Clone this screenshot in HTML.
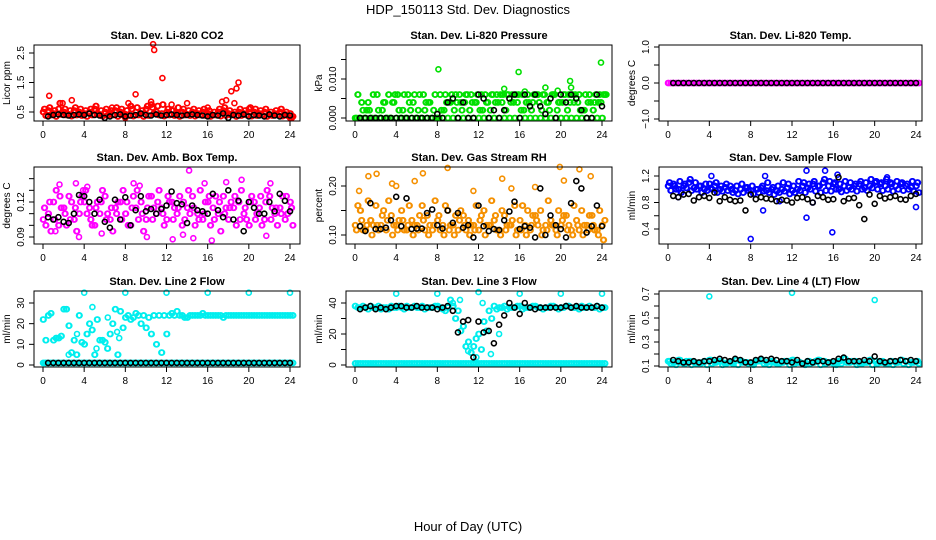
<!DOCTYPE html>
<html><head><meta charset="utf-8">
<style>
html,body{margin:0;padding:0;background:#fff;}
svg{display:block;font-family:"Liberation Sans",Arial,sans-serif;}
</style></head>
<body>
<svg id="chart" width="936" height="540" viewBox="0 0 936 540">
<text x="468" y="14" text-anchor="middle" font-size="13">HDP_150113  Std. Dev. Diagnostics</text>
<text x="468" y="531" text-anchor="middle" font-size="13">Hour of Day (UTC)</text>
</svg>
<script>
// ---------- data ----------
const xTicks = [0,4,8,12,16,20,24];

const co2A = [0.5,0.55,0.45,0.6,0.5,0.42,0.55,0.5,0.45,0.5,0.6,0.42,0.5,0.45,0.55,0.5,0.42,0.7,0.5,0.45,0.6,0.75,0.5,0.45,0.5,0.55,0.45,0.5,0.42,0.5,0.45,0.5,0.45,0.4,0.5,0.55,0.45,0.42,0.5,0.45,0.6,0.5,0.45,0.5,0.42,0.45,0.5,0.42,0.45];
const co2B = [0.38,0.4,0.35,0.42,0.4,0.36,0.4,0.38,0.35,0.4,0.42,0.36,0.38,0.4,0.35,0.4,0.38,0.36,0.4,0.35,0.38,0.45,0.4,0.36,0.4,0.38,0.35,0.4,0.38,0.36,0.4,0.38,0.35,0.4,0.36,0.38,0.4,0.35,0.38,0.4,0.36,0.38,0.4,0.35,0.38,0.4,0.36,0.38,0.35];
const co2C = [0.6,0.65,0.55,0.8,0.6,0.55,0.65,0.6,0.55,0.6,0.7,0.55,0.6,0.55,0.65,0.6,0.55,0.6,0.65,0.55,0.7,0.65,0.7,0.75,0.6,0.55,0.65,0.6,0.55,0.6,0.55,0.6,0.55,0.5,0.6,0.65,0.55,0.5,0.6,0.55,0.65,0.6,0.55,0.6,0.5,0.55,0.6,0.5,0.3];
const co2Out = [[0.6,1.05],[8.3,0.8],[9,1.1],[10.7,2.8],[10.8,2.6],[11.6,1.65],[12.5,0.75],[14,0.8],[17.4,0.85],[17.8,0.9],[18.3,1.2],[18.6,0.8],[18.8,1.3],[19,1.5],[2.8,0.9],[1.9,0.8],[16,0.65],[6.7,0.65],[10.5,0.85],[24,0.3],[8,0.3]];
const co2Blk = [0.35,0.4,0.42,0.4,0.38,0.4,0.42,0.4,0.45,0.4,0.38,0.3,0.35,0.4,0.42,0.35,0.38,0.4,0.45,0.4,0.38,0.42,0.38,0.4,0.42,0.4,0.38,0.4,0.42,0.4,0.38,0.35,0.4,0.38,0.45,0.3,0.4,0.38,0.42,0.35,0.4,0.38,0.35,0.42,0.38,0.35,0.4,0.38];

const prA = [0,0,0,0,0,0,0,0,0,0,0,0,0,0,0,0,0,0,0,0,0,0,0,0,0,0,0,0,0,0,0,0,0,0,0,0,0,0,0,0,0,0,0,0,0,0,0,0,0];
const prB = [0.006,0.002,0.004,0.006,0.002,0.004,0.006,0.004,0.002,0.006,0.004,0.006,0.006,0.002,0.004,0.006,0.006,0.006,0.004,0.006,0.004,0.006,0.006,0.004,0.006,0.004,0.006,0.006,0.004,0.006,0.006,0.004,0.006,0.006,0.004,0.006,0.006,0.004,0.006,0.004,0.006,0.006,0.004,0.006,0.002,0.006,0.004,0.006,0.006];
const prC = [0,0.004,0.002,0,0.006,0.002,0,0.004,0.006,0.002,0.006,0.004,0.002,0.006,0.004,0.002,0,0.002,0.004,0.002,0.006,0.004,0.002,0.004,0.002,0.006,0.002,0.004,0.006,0.002,0.004,0.006,0.002,0.004,0.002,0.006,0.002,0.004,0.006,0.002,0.004,0.002,0.006,0.004,0.002,0.004,0.002,0.004,0.006];
const prD = [0,0,0.002,0,0,0.004,0,0.006,0,0,0.002,0,0,0.004,0,0,0.002,0.004,0.006,0.004,0.002,0.006,0.004,0.006,0.002,0.004,0.006,0.004,0.006,0.006,0.004,0.006,0.002,0.004,0.006,0.004,0.006,0.002,0.006,0.004,0.006,0.004,0.006,0.002,0.006,0.004,0.006,0.004,0.006];
const prOut = [[8.1,0.0125],[15.9,0.0118],[23.9,0.0142],[20.9,0.0095],[18.5,0.0078],[14.5,0.0075],[21,0.0078],[16.5,0.0068],[19.7,0.007]];
const prBlk = [0,0,0,0,0,0,0,0,0,0,0,0,0,0,0,0.001,0,0.004,0.005,0,0.004,0,0,0.006,0.005,0,0.002,0,0.002,0.005,0.006,0,0.006,0.003,0.006,0.003,0.001,0.005,0,0.006,0.004,0.006,0.005,0.002,0,0,0.006,0.003];

const tpA = [0,0,0,0,0,0,0,0,0,0,0,0,0,0,0,0,0,0,0,0,0,0,0,0,0,0,0,0,0,0,0,0,0,0,0,0,0,0,0,0,0,0,0,0,0,0,0,0,0];
const tpBlk = [0,0,0,0,0,0,0,0,0,0,0,0,0,0,0,0,0,0,0,0,0,0,0,0,0,0,0,0,0,0,0,0,0,0,0,0,0,0,0,0,0,0,0,0,0,0,0,0];

const ambA = [0.105,0.11,0.12,0.1,0.115,0.125,0.105,0.11,0.12,0.115,0.1,0.11,0.125,0.105,0.115,0.12,0.11,0.1,0.115,0.12,0.105,0.125,0.11,0.115,0.105,0.12,0.11,0.1,0.115,0.125,0.11,0.105,0.12,0.115,0.11,0.125,0.105,0.115,0.12,0.11,0.1,0.12,0.115,0.105,0.125,0.11,0.115,0.105,0.12];
const ambB = [0.1,0.095,0.13,0.115,0.1,0.12,0.095,0.125,0.11,0.1,0.12,0.13,0.11,0.095,0.12,0.13,0.1,0.125,0.105,0.095,0.125,0.115,0.13,0.1,0.12,0.115,0.125,0.105,0.11,0.1,0.13,0.12,0.1,0.125,0.095,0.115,0.12,0.1,0.13,0.105,0.125,0.11,0.1,0.13,0.115,0.1,0.125,0.11,0.1];
const ambC = [0.115,0.12,0.105,0.125,0.11,0.105,0.115,0.12,0.13,0.105,0.115,0.12,0.105,0.115,0.11,0.105,0.12,0.115,0.13,0.11,0.115,0.105,0.12,0.11,0.125,0.105,0.115,0.12,0.13,0.115,0.105,0.11,0.125,0.105,0.12,0.11,0.115,0.125,0.105,0.115,0.12,0.105,0.125,0.12,0.105,0.115,0.11,0.125,0.115];
const ambOut = [[1.2,0.095],[1.6,0.135],[3.2,0.136],[3.5,0.09],[5.7,0.093],[8.8,0.136],[9.4,0.134],[10.1,0.09],[12.6,0.088],[13.6,0.092],[14.2,0.147],[14.6,0.089],[15.7,0.136],[16.4,0.087],[17.8,0.137],[19.3,0.139],[21.7,0.091],[22.1,0.136],[3.9,0.13],[4.3,0.133]];
const ambBlk = [0.107,0.105,0.107,0.103,0.102,0.11,0.126,0.125,0.12,0.11,0.122,0.103,0.098,0.122,0.105,0.124,0.1,0.113,0.125,0.112,0.114,0.11,0.114,0.117,0.129,0.119,0.118,0.102,0.117,0.113,0.112,0.11,0.127,0.113,0.107,0.13,0.105,0.121,0.095,0.12,0.115,0.11,0.11,0.12,0.112,0.127,0.121,0.112];

const rhA = [0.12,0.15,0.11,0.13,0.16,0.12,0.11,0.14,0.12,0.15,0.11,0.13,0.12,0.16,0.14,0.11,0.13,0.12,0.15,0.12,0.11,0.14,0.13,0.12,0.11,0.15,0.12,0.13,0.11,0.14,0.12,0.16,0.13,0.12,0.11,0.14,0.15,0.12,0.13,0.11,0.12,0.14,0.11,0.13,0.15,0.12,0.14,0.11,0.12];
const rhB = [0.16,0.11,0.17,0.12,0.11,0.15,0.17,0.12,0.13,0.11,0.16,0.12,0.14,0.11,0.12,0.17,0.11,0.16,0.12,0.14,0.15,0.11,0.12,0.16,0.14,0.12,0.17,0.11,0.15,0.12,0.13,0.11,0.16,0.15,0.14,0.12,0.11,0.17,0.12,0.15,0.14,0.12,0.16,0.11,0.12,0.14,0.11,0.15,0.13];
const rhC = [0.11,0.13,0.12,0.1,0.12,0.14,0.13,0.1,0.11,0.13,0.12,0.1,0.11,0.13,0.1,0.12,0.14,0.1,0.11,0.1,0.13,0.12,0.1,0.11,0.13,0.1,0.12,0.14,0.1,0.11,0.12,0.1,0.11,0.1,0.12,0.13,0.1,0.11,0.12,0.1,0.13,0.11,0.1,0.12,0.1,0.11,0.12,0.1,0.09];
const rhOut = [[1.3,0.22],[2.1,0.225],[6.6,0.226],[9,0.237],[3.6,0.205],[4,0.2],[5.8,0.21],[14.3,0.215],[15.2,0.195],[19.9,0.239],[20.3,0.211],[21.8,0.234],[22.9,0.22],[17.5,0.198],[0.4,0.19],[11.5,0.19]];
const rhBlk = [0.118,0.108,0.165,0.112,0.112,0.115,0.13,0.178,0.118,0.175,0.112,0.113,0.113,0.145,0.152,0.12,0.113,0.15,0.125,0.145,0.115,0.12,0.095,0.16,0.118,0.108,0.112,0.11,0.13,0.148,0.168,0.112,0.118,0.115,0.095,0.195,0.1,0.14,0.12,0.112,0.095,0.165,0.21,0.195,0.105,0.118,0.16,0.118];

const sfA = [1.05,1.08,1.0,1.05,1.1,1.02,1.05,1.0,1.08,1.05,1.0,1.03,1.05,0.98,1.0,1.02,0.98,1.0,1.02,0.98,1.0,0.97,1.0,1.02,0.98,1.0,1.05,1.02,1.08,1.05,1.1,1.05,1.08,1.0,1.05,1.03,1.05,1.08,1.02,1.05,1.1,1.08,1.05,1.1,1.05,1.08,1.05,1.03,1.05];
const sfB = [0.98,1.0,0.95,1.02,0.98,1.0,0.95,0.98,1.0,0.95,0.97,0.98,0.95,0.93,0.95,0.98,0.93,0.95,0.97,0.95,0.92,0.95,0.97,0.93,0.95,0.98,0.95,1.0,0.97,0.95,0.98,0.97,1.0,0.96,0.98,1.0,0.97,1.0,0.98,1.02,1.0,0.98,1.0,0.97,1.0,0.98,1.0,0.97,0.95];
const sfC = [1.1,1.05,1.12,1.08,1.15,1.1,1.05,1.08,1.02,1.1,1.05,1.08,1.0,1.05,1.08,1.03,1.05,1.0,1.05,1.1,1.03,1.05,1.1,1.08,1.05,1.12,1.1,1.08,1.12,1.05,1.15,1.12,1.1,1.08,1.12,1.1,1.08,1.12,1.1,1.15,1.12,1.1,1.15,1.08,1.12,1.1,1.08,1.12,1.1];
const sfOut = [[8.0,0.25],[9.2,0.68],[13.4,0.57],[15.9,0.35],[24,0.73],[13.4,1.28],[15.2,1.28],[16.4,1.22],[4.2,1.2],[9.4,1.2],[21.2,1.18],[1,0.88],[10.8,0.82],[14,0.8]];
const sfBlk = [0.9,0.88,0.92,0.93,0.83,0.88,0.9,0.87,0.95,0.82,0.88,0.84,0.82,0.83,0.68,0.92,0.85,0.88,0.86,0.85,0.82,0.84,0.83,0.8,0.87,0.88,0.85,0.8,0.9,0.88,0.84,0.85,1.18,0.82,0.86,0.87,0.76,0.55,0.92,0.78,0.9,0.86,0.88,0.9,0.85,0.84,0.9,0.93];

const l2A = [22,24,12,13,27,19,12,24,10,20,5,12,11,15,27,26,23,22,25,20,18,15,10,6,15,25,26,24,23,24,24,25,24,24,24,23,24,24,24,24,24,24,24,24,24,24,24,24,24];
const l2B = [12,25,13,14,27,6,5,11,15,17,22,12,8,20,5,18,24,23,24,24,23,24,24,24,24,24,24,23,24,24,24,24,24,24,24,24,24,24,24,24,24,24,24,24,24,24,24,24,24];
const l2C = [1,1,1,1,1,1,1,1,1,1,1,1,1,1,1,1,1,1,1,1,1,1,1,1,1,1,1,1,1,1,1,1,1,1,1,1,1,1,1,1,1,1,1,1,1,1,1,1,1];
const l2Out = [[4,35],[8,35],[12,35],[16,35],[20,35],[24,35],[0.2,1],[3.3,15],[4.8,28],[7.4,13],[7.2,16],[6.3,23],[2.5,5],[5.2,8]];
const l2Blk = [1,1,1,1,1,1,1,1,1,1,1,1,1,1,1,1,1,1,1,1,1,1,1,1,1,1,1,1,1,1,1,1,1,1,1,1,1,1,1,1,1,1,1,1,1,1,1,1];

const l3A = [38,37,37,38,37,36,37,38,37,37,38,37,37,38,37,37,38,36,37,38,35,25,15,12,20,28,35,38,37,38,37,37,38,37,37,38,37,37,38,37,37,38,37,37,38,37,37,38,37];
const l3B = [37,38,36,37,38,37,36,37,38,36,37,38,37,36,37,38,37,35,42,30,22,12,8,17,10,22,30,36,37,36,37,38,36,37,38,37,36,37,38,36,37,38,37,36,37,38,37,36,37];
const l3C = [1,1,1,1,1,1,1,1,1,1,1,1,1,1,1,1,1,1,1,1,1,1,1,1,1,1,1,1,1,1,1,1,1,1,1,1,1,1,1,1,1,1,1,1,1,1,1,1,1];
const l3Out = [[4,46],[8,46],[12,47],[16,46],[20,46],[24,46],[9.5,40],[10.2,42],[12.4,40],[11.8,5],[13.2,7],[14,20],[11,9]];
const l3Blk = [36,37,38,36,37,36,37,38,38,37,37,38,37,37,37,36,37,38,35,21,28,29,5,28,21,22,14,26,32,40,37,33,40,37,36,37,37,37,37,37,38,37,38,37,37,37,38,37];

const l4A = [0.14,0.13,0.15,0.12,0.14,0.13,0.12,0.14,0.15,0.13,0.14,0.12,0.13,0.15,0.14,0.13,0.12,0.14,0.15,0.13,0.14,0.12,0.13,0.14,0.15,0.13,0.12,0.14,0.13,0.15,0.14,0.13,0.12,0.14,0.16,0.13,0.14,0.12,0.13,0.15,0.14,0.13,0.12,0.14,0.13,0.15,0.14,0.13,0.14];
const l4B = [0.12,0.11,0.13,0.14,0.11,0.12,0.13,0.11,0.12,0.14,0.11,0.13,0.12,0.11,0.13,0.12,0.11,0.14,0.12,0.11,0.13,0.12,0.14,0.11,0.12,0.13,0.11,0.12,0.14,0.11,0.12,0.13,0.11,0.12,0.13,0.14,0.11,0.12,0.13,0.11,0.12,0.14,0.12,0.11,0.13,0.12,0.11,0.13,0.12];
const l4Out = [[4,0.68],[12,0.71],[20,0.65]];
const l4Blk = [0.15,0.14,0.13,0.13,0.14,0.13,0.14,0.14,0.15,0.16,0.15,0.14,0.16,0.15,0.13,0.13,0.15,0.16,0.15,0.16,0.15,0.14,0.14,0.13,0.15,0.12,0.14,0.13,0.14,0.14,0.13,0.14,0.16,0.17,0.14,0.14,0.14,0.15,0.14,0.18,0.14,0.13,0.14,0.14,0.15,0.14,0.15,0.14];

// ---------- drawing ----------
const NS = "http://www.w3.org/2000/svg";
const svg = document.getElementById('chart');
function mk(tag, attrs, parent){
  const e = document.createElementNS(NS, tag);
  for (const k in attrs) e.setAttribute(k, attrs[k]);
  parent.appendChild(e);
  return e;
}

const panels = [
 {key:'co2', title:'Stan. Dev. Li-820 CO2', ylab:'Licor ppm', box:[34,300,45,121], xr:[43,290], ya:[0.5,112], yb:[2.5,53], ticks:[0.5,1,1.5,2,2.5], labels:['0.5','','1.5','','2.5'], color:'#ff0000',
  dense:[[co2A,0],[co2B,0.25],[co2C,0.12]], out:co2Out, blk:co2Blk},
 {key:'pressure', title:'Stan. Dev. Li-820 Pressure', ylab:'kPa', box:[346,612,45,121], xr:[355,602], ya:[0,118], yb:[0.01,79], ticks:[0,0.005,0.01,0.015], labels:['0.000','','0.010',''], color:'#00e000',
  dense:[[prA,0],[prB,0.25],[prC,0.12],[prD,0.37]], out:prOut, blk:prBlk},
 {key:'temp', title:'Stan. Dev. Li-820 Temp.', ylab:'degrees C', box:[659,922,45,121], xr:[668,916], ya:[1,47], yb:[-1,119], ticks:[-1,-0.5,0,0.5,1], labels:['\u22121.0','','0.0','','1.0'], color:'#ff00ff',
  dense:[[tpA,0],[tpA,0.25]], out:[], blk:tpBlk},
 {key:'ambbox', title:'Stan. Dev. Amb. Box Temp.', ylab:'degrees C', box:[34,300,167,244], xr:[43,290], ya:[0.12,202], yb:[0.09,237], ticks:[0.09,0.1,0.11,0.12,0.13,0.14], labels:['0.09','','','0.12','',''], color:'#ff00ff',
  dense:[[ambA,0],[ambB,0.25],[ambC,0.12]], out:ambOut, blk:ambBlk},
 {key:'rh', title:'Stan. Dev. Gas Stream RH', ylab:'percent', box:[346,612,167,244], xr:[355,602], ya:[0.2,186], yb:[0.1,235], ticks:[0.1,0.15,0.2], labels:['0.10','','0.20'], color:'#f59000',
  dense:[[rhA,0],[rhB,0.25],[rhC,0.12]], out:rhOut, blk:rhBlk},
 {key:'sampleflow', title:'Stan. Dev. Sample Flow', ylab:'ml/min', box:[659,922,167,244], xr:[668,916], ya:[1.2,176], yb:[0.4,229], ticks:[0.4,0.6,0.8,1.0,1.2], labels:['0.4','','0.8','','1.2'], color:'#0000ff',
  dense:[[sfA,0],[sfB,0.25],[sfC,0.12]], out:sfOut, blk:sfBlk},
 {key:'line2', title:'Stan. Dev. Line 2 Flow', ylab:'ml/min', box:[34,300,291,367], xr:[43,290], ya:[0,365], yb:[30,303], ticks:[0,10,20,30], labels:['0','10','20','30'], color:'#00eeee',
  dense:[[l2A,0],[l2B,0.25],[l2C,0],[l2C,0.25]], out:l2Out, blk:l2Blk},
 {key:'line3', title:'Stan. Dev. Line 3 Flow', ylab:'ml/min', box:[346,612,291,367], xr:[355,602], ya:[0,365], yb:[40,303], ticks:[0,10,20,30,40], labels:['0','','20','','40'], color:'#00eeee',
  dense:[[l3A,0],[l3B,0.25],[l3C,0],[l3C,0.25]], out:l3Out, blk:l3Blk},
 {key:'line4', title:'Stan. Dev. Line 4 (LT) Flow', ylab:'ml/min', box:[659,922,291,367], xr:[668,916], ya:[0.7,294], yb:[0.1,366], ticks:[0.1,0.2,0.3,0.4,0.5,0.6,0.7], labels:['0.1','','0.3','','0.5','','0.7'], color:'#00eeee',
  dense:[[l4A,0],[l4B,0.25],[l4A,0.12]], out:l4Out, blk:l4Blk}
];

panels.forEach(p => {
  const [x0,x1,y0,y1] = p.box;
  const sx = h => p.xr[0] + (h/24)*(p.xr[1]-p.xr[0]);
  const sy = v => p.ya[1] + (v-p.ya[0])*(p.yb[1]-p.ya[1])/(p.yb[0]-p.ya[0]);
  const g = mk('g', {}, svg);
  
  

  const t = mk('text', {x:(x0+x1)/2, y:y0-6, 'text-anchor':'middle', 'font-size':'11', 'font-weight':'bold'}, g);
  t.textContent = p.title;
  
  

  // points
  const pts = mk('g', {fill:'none', 'stroke-width':'1.6'}, g);
  
  
  const dot = (h, v, col, nm) => {
    const c = mk('circle', {cx:sx(h).toFixed(1), cy:sy(v).toFixed(1), r:'2.5', stroke:col}, pts);
    
    
  };
  // dense samples (each half-hour reading drawn at its sub-interval positions)
  p.dense.forEach(([arr, off]) => {
    arr.forEach((v,i) => dot(off + i*0.5, v, p.color, p.key + '-point'));
    arr.forEach((v,i) => dot(off + 0.06 + i*0.5, v, p.color, p.key + '-point'));
  });
  p.out.forEach(([h,v]) => dot(h, v, p.color, p.key + '-outlier'));
  p.blk.forEach((v,i) => dot(0.5 + i*0.5, v, '#000', p.key + '-mean-point'));

  // box
  const r = mk('rect', {x:x0, y:y0, width:x1-x0, height:y1-y0, fill:'none', stroke:'#000', 'stroke-width':'1'}, g);
  
  

  // x axis
  const xa = mk('g', {'font-size':'10', 'text-anchor':'middle'}, g);
  
  
  mk('line', {x1:sx(0), x2:sx(24), y1:y1, y2:y1, stroke:'#000'}, xa);
  xTicks.forEach(h => {
    mk('line', {x1:sx(h), x2:sx(h), y1:y1, y2:y1+5, stroke:'#000'}, xa);
    const tl = mk('text', {x:sx(h), y:y1+17}, xa);
    tl.textContent = h;
    
    
  });

  // y axis
  const ya = mk('g', {'font-size':'10', 'text-anchor':'middle'}, g);
  
  
  const tk = p.ticks.map(sy);
  mk('line', {x1:x0, x2:x0, y1:Math.min(...tk), y2:Math.max(...tk), stroke:'#000'}, ya);
  p.ticks.forEach((v,i) => {
    const yy = sy(v);
    mk('line', {x1:x0-5, x2:x0, y1:yy, y2:yy, stroke:'#000'}, ya);
    if (p.labels[i]) {
      const lx = x0 - 10;
      const tl = mk('text', {x:lx, y:yy, transform:`rotate(-90 ${lx} ${yy})`}, ya);
      tl.textContent = p.labels[i];
      
      
    }
  });
  const ax = x0 - 24, ay = (y0+y1)/2;
  const yt = mk('text', {x:ax, y:ay, 'font-size':'10', 'text-anchor':'middle', transform:`rotate(-90 ${ax} ${ay})`}, g);
  yt.textContent = p.ylab;
  
  
});
</script>
</body></html>
